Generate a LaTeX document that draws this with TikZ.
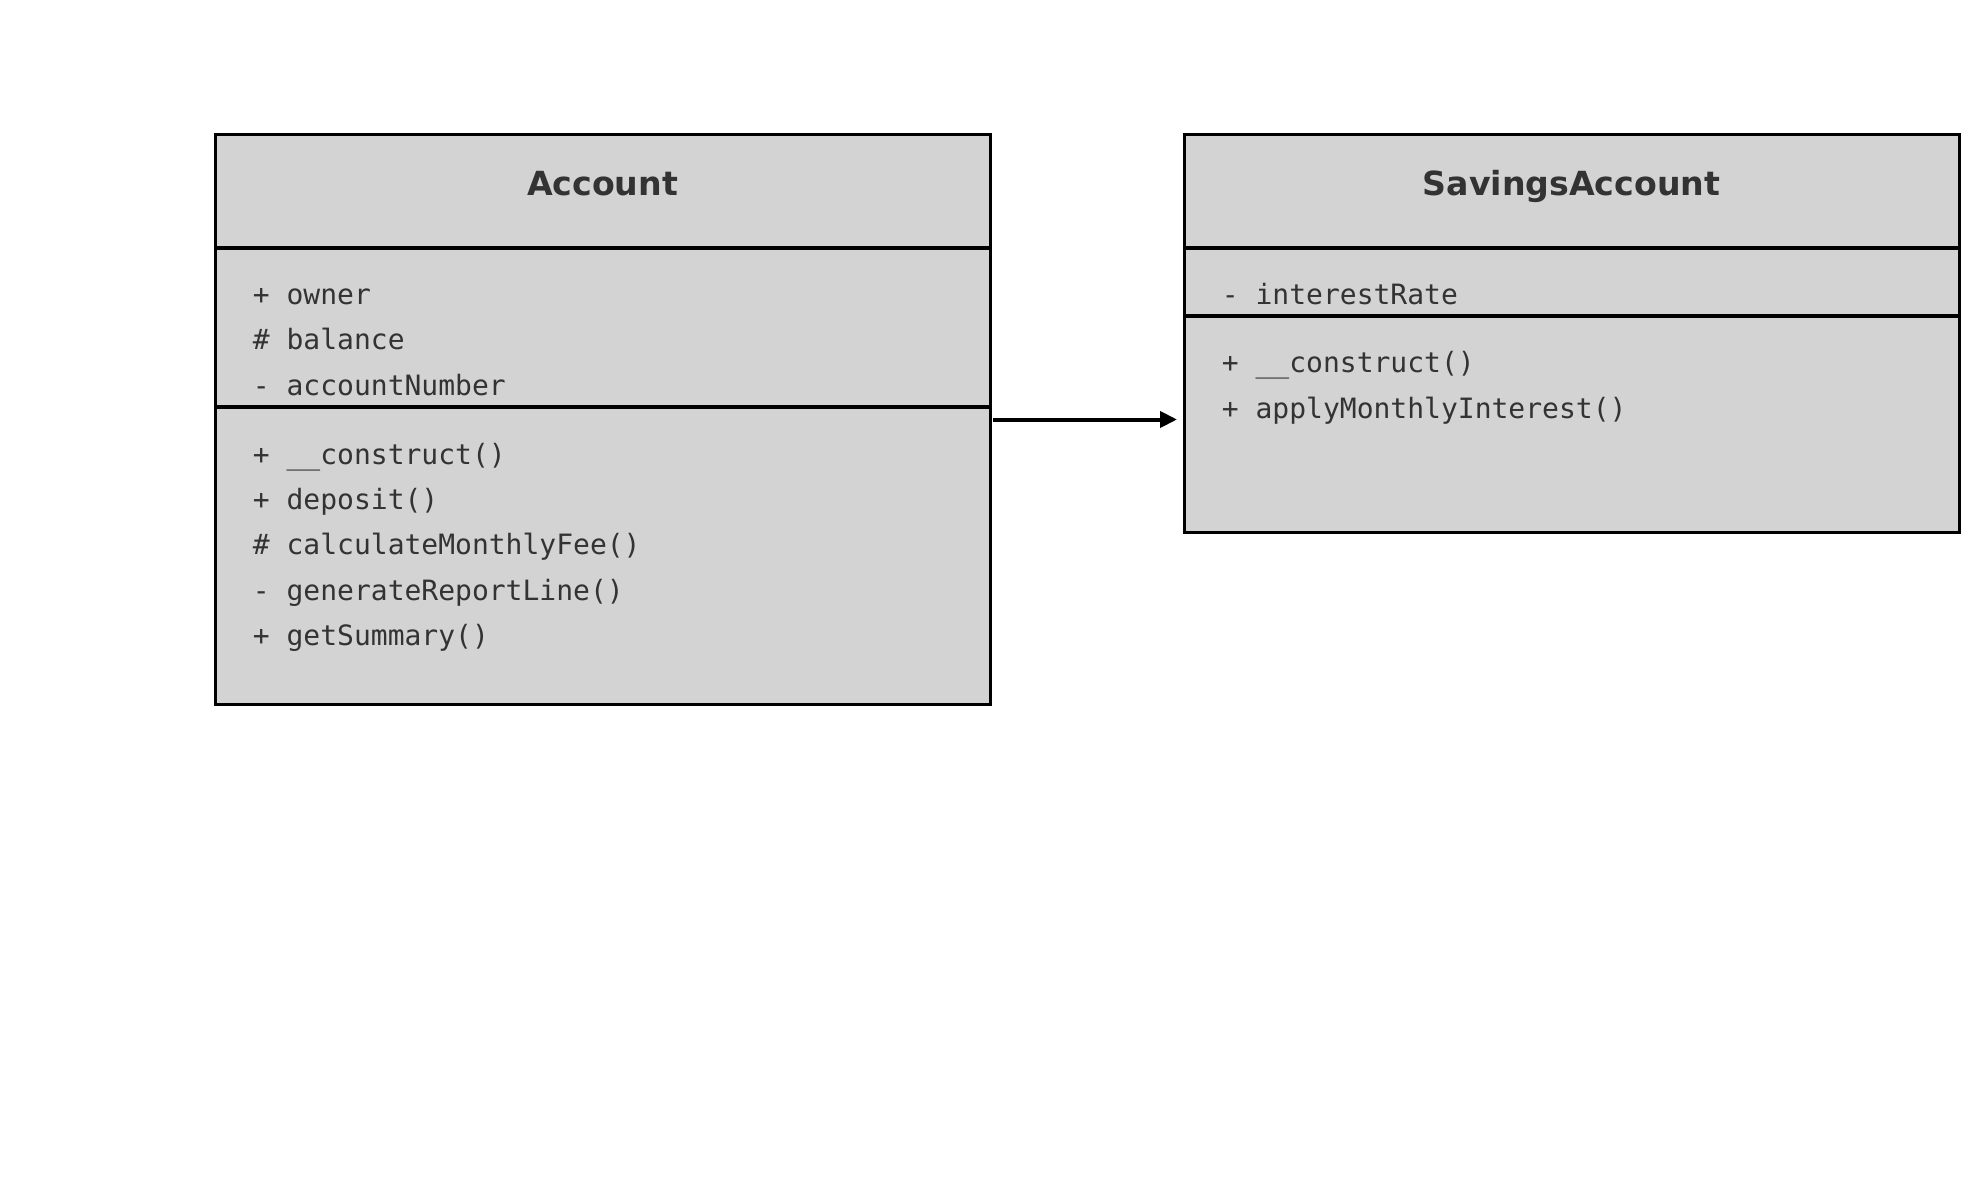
\documentclass[tikz,border=0pt]{standalone}
\usepackage{fontspec}
\setsansfont{DejaVu Sans}
\setmonofont{DejaVu Sans Mono}
\usetikzlibrary{arrows.meta}

\definecolor{classfill}{HTML}{D3D3D3}
\definecolor{classtext}{HTML}{333333}

\tikzset{
    classbox/.style={draw=black, line width=1.5pt, fill=classfill, inner sep=0pt, outer sep=0pt, minimum width=387.5pt},
    divider/.style={line width=2pt},
    classname/.style={anchor=base, inner sep=0pt, text=classtext, font=\sffamily\bfseries\fontsize{16.6}{20}\selectfont},
    member/.style={anchor=base west, inner sep=0pt, text=classtext, font=\ttfamily\fontsize{14}{17}\selectfont},
}

\begin{document}
\begin{tikzpicture}[x=0.5pt, y=0.5pt]

    \useasboundingbox (0,0) rectangle (1979,1180);

    \node[classbox, minimum height=284.5pt] (account) at (602.5, 760.5) {};
    \node[classbox, minimum height=198.7pt] (savings) at (1571.5, 846.4) {};

    \node[classname] (account_name) at ([yshift=-30.3pt]account.north) {Account};
    \node[classname] (savings_name) at ([yshift=-30.3pt]savings.north) {SavingsAccount};

    \coordinate (account_attr) at ([yshift=-56.4pt]account.north west);
    \coordinate (account_ops) at ([yshift=-136.2pt]account.north west);
    \coordinate (savings_attr) at ([yshift=-56.4pt]savings.north west);
    \coordinate (savings_ops) at ([yshift=-90.5pt]savings.north west);

    \draw[divider] (account_attr) -- (account_attr -| account.east);
    \draw[divider] (account_ops) -- (account_ops -| account.east);
    \draw[divider] (savings_attr) -- (savings_attr -| savings.east);
    \draw[divider] (savings_ops) -- (savings_ops -| savings.east);

    \foreach \txt [count=\i] in {+ owner, \# balance, - accountNumber}
        \node[member] (account_attr_\i) at ([xshift=18.75pt, yshift={-28.4pt-(\i-1)*22.65pt}]account_attr) {\txt};

    \foreach \txt [count=\i] in {+ \_\_construct(), + deposit(), \# calculateMonthlyFee(), - generateReportLine(), + getSummary()}
        \node[member] (account_op_\i) at ([xshift=18.75pt, yshift={-28.4pt-(\i-1)*22.65pt}]account_ops) {\txt};

    \node[member] (savings_attr_1) at ([xshift=18.75pt, yshift=-28.4pt]savings_attr) {- interestRate};

    \foreach \txt [count=\i] in {+ \_\_construct(), + applyMonthlyInterest()}
        \node[member] (savings_op_\i) at ([xshift=18.75pt, yshift={-28.4pt-(\i-1)*22.65pt}]savings_ops) {\txt};

    \draw[-{Triangle[length=8.5pt, width=8pt]}, line width=2pt, shorten <=1.65pt, shorten >=3.5pt]
        (account.east) -- (account.east -| savings.west);

\end{tikzpicture}
\end{document}
